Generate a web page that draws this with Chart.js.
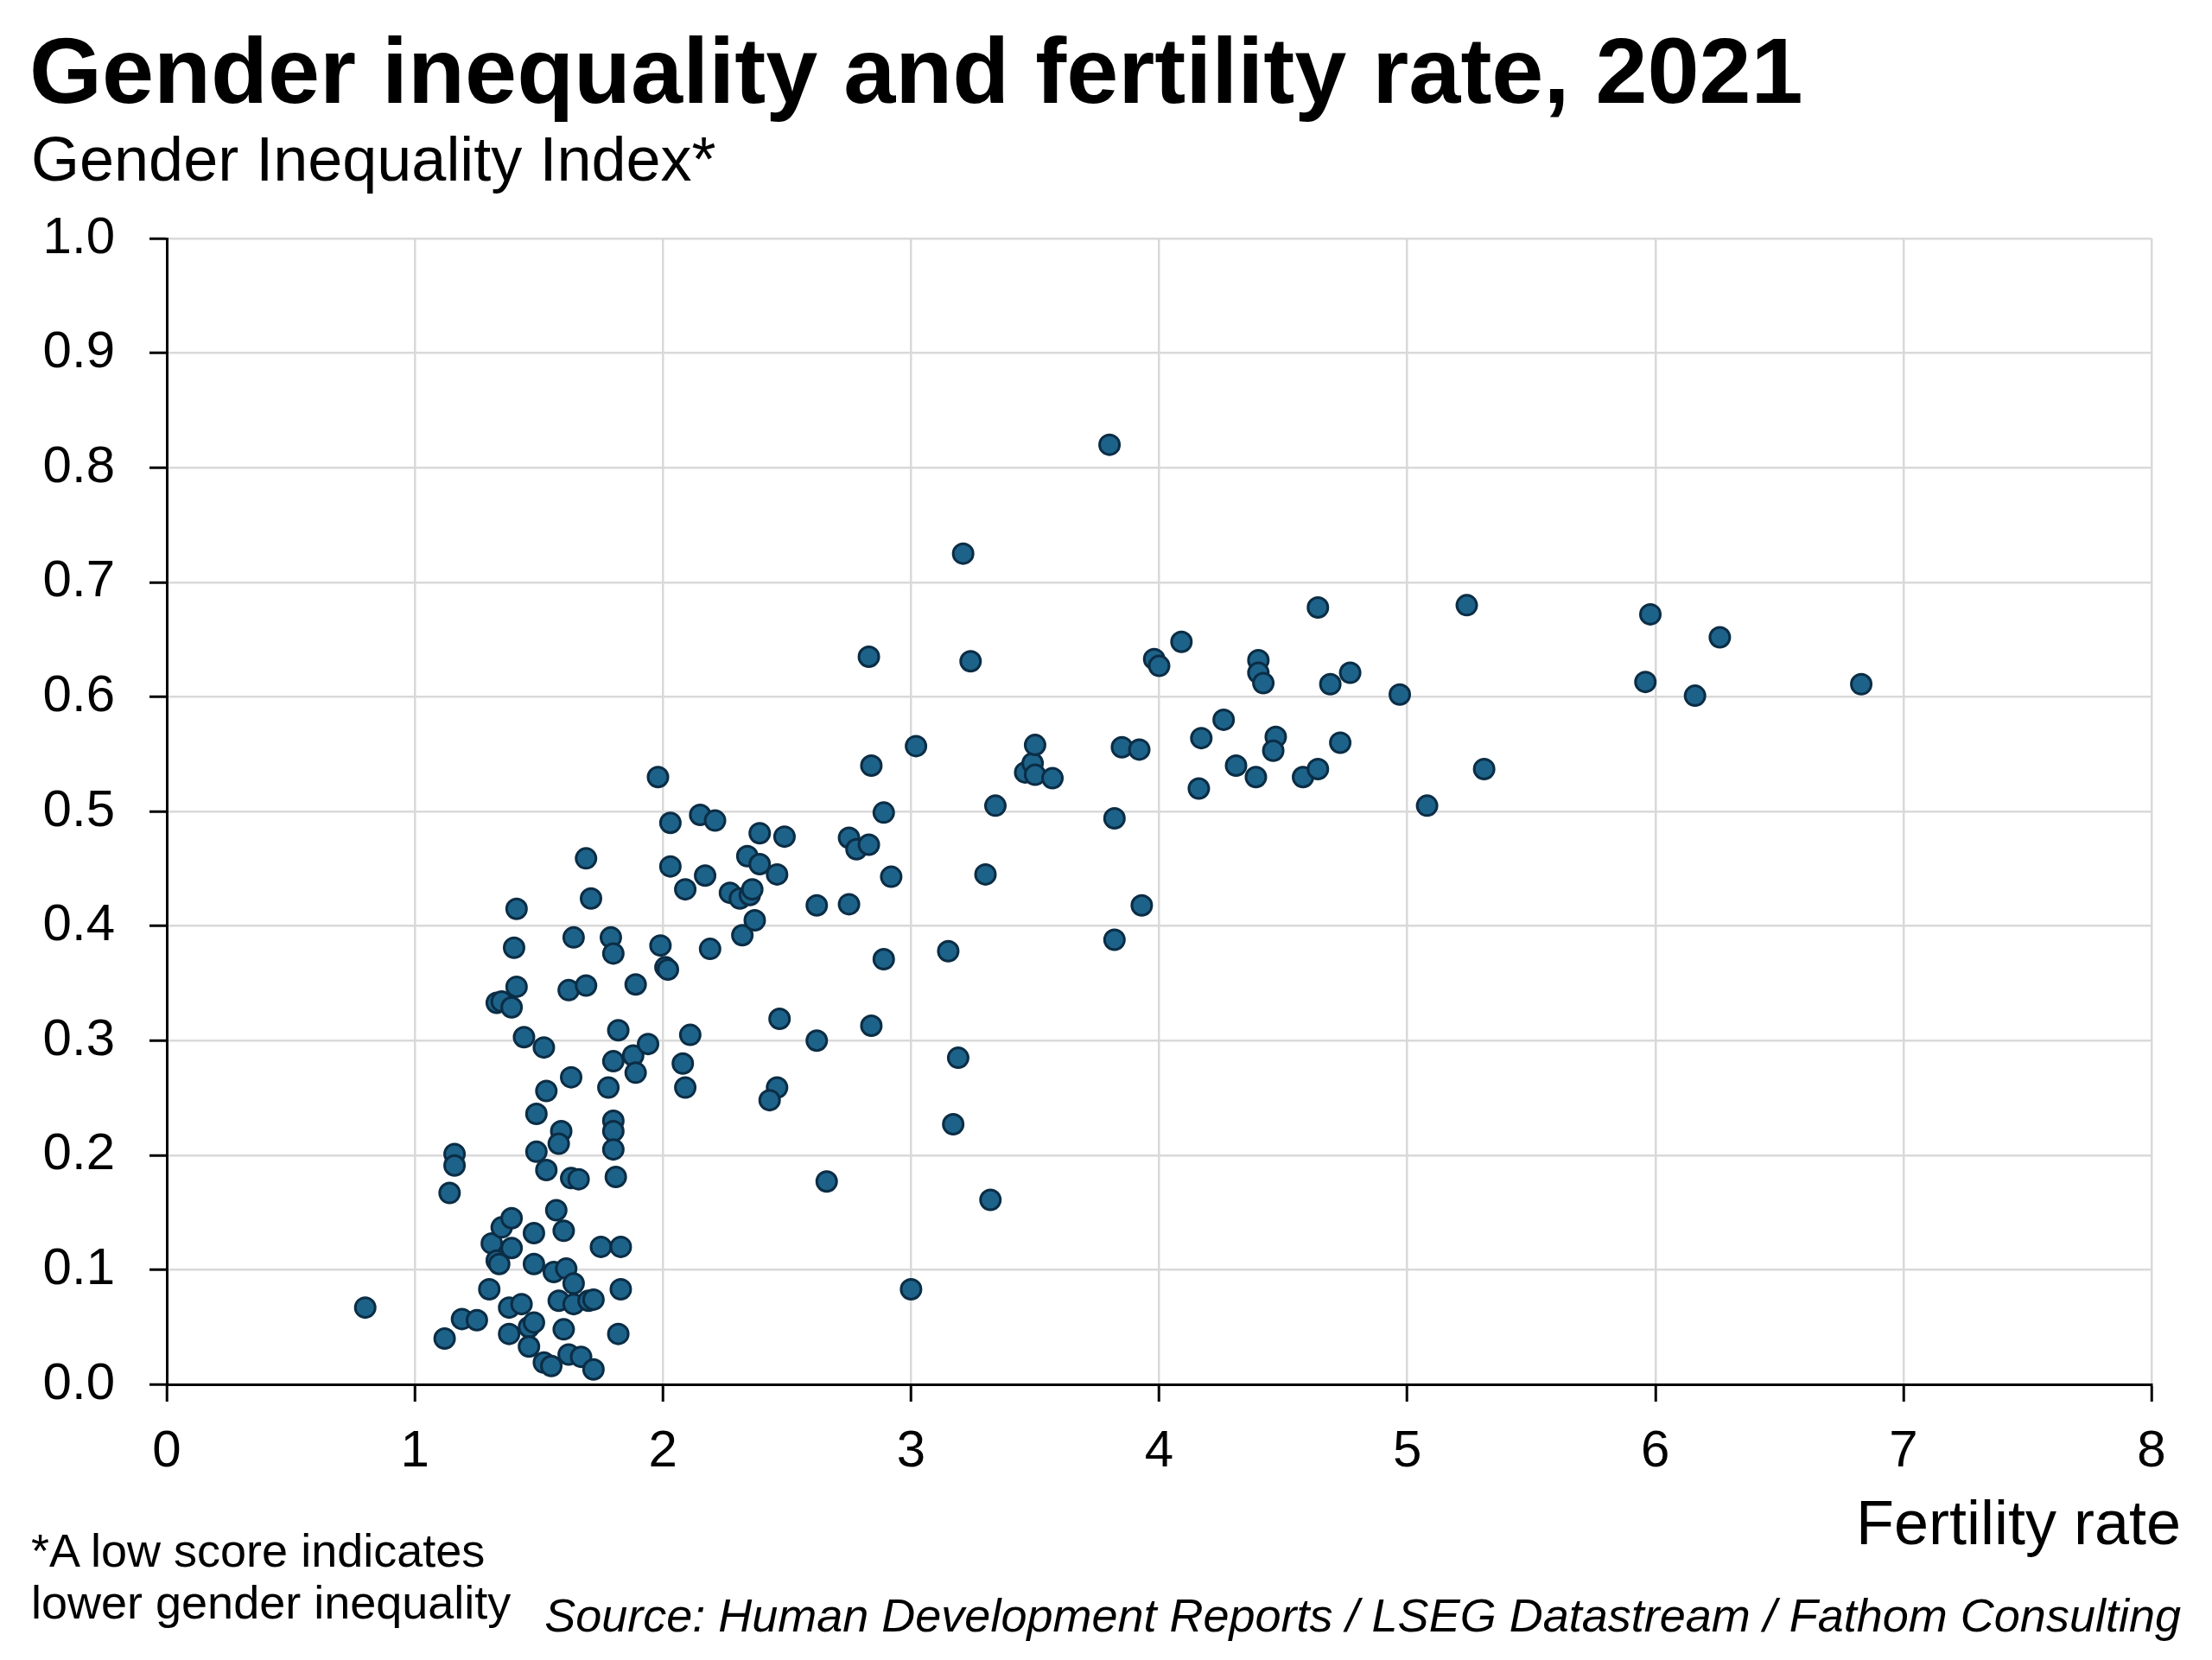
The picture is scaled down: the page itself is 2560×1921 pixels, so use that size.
<!DOCTYPE html>
<html>
<head>
<meta charset="utf-8">
<title>Gender inequality and fertility rate, 2021</title>
<script src="https://cdn.jsdelivr.net/npm/chart.js@4.4.0/dist/chart.umd.min.js"></script>
<style>
    html, body { margin: 0; padding: 0; background: #fff; }
    body { width: 2560px; height: 1921px; position: relative; overflow: hidden; font-family: 'Liberation Sans', Arial, sans-serif; color: #000; }
    #chartCanvas { position: absolute; left: 0; top: 0; }
    .txt { position: absolute; white-space: nowrap; line-height: 1; }
    #title { left: 34px; top: 28px; font-size: 108px; font-weight: bold; }
    #subtitle { left: 36px; top: 148px; font-size: 72px; }
    #xTitle { right: 36px; top: 1726px; font-size: 72px; }
    #footnote { left: 36px; top: 1764px; font-size: 54px; line-height: 60px; }
    #source { right: 36px; top: 1842px; font-size: 54px; font-style: italic; }
</style>
</head>
<body>
<canvas id="chartCanvas" width="2560" height="1921"></canvas>
<div class="txt" id="title">Gender inequality and fertility rate, 2021</div>
<div class="txt" id="subtitle">Gender Inequality Index*</div>
<div class="txt" id="xTitle">Fertility rate</div>
<div class="txt" id="footnote">*A low score indicates<br>lower gender inequality</div>
<div class="txt" id="source">Source: Human Development Reports / LSEG Datastream / Fathom Consulting</div>
<script>
document.addEventListener('DOMContentLoaded', init);

// Fertility rate (x) and Gender Inequality Index (y), one entry per country
const fertilityRate = [
    0.80, 1.12, 1.19, 1.25, 1.14, 1.16, 1.16, 1.30, 1.31, 1.33,
    1.34, 1.35, 1.39, 1.39, 1.38, 1.38, 1.43, 1.46, 1.48, 1.46,
    1.52, 1.55, 1.56, 1.48, 1.48, 1.49, 1.49, 1.53, 1.57, 1.60,
    1.59, 1.58, 1.58, 1.60, 1.61, 1.64, 1.62, 1.67, 1.72, 1.64,
    1.70, 1.72, 1.75, 1.83, 1.83, 1.82, 1.63, 1.66, 1.63, 1.53,
    1.52, 1.44, 1.33, 1.35, 1.39, 1.41, 1.40, 1.41, 1.62, 1.69,
    1.64, 1.69, 1.71, 1.78, 1.80, 1.80, 1.80, 1.80, 1.81, 1.79,
    1.80, 1.82, 1.89, 1.88, 1.89, 1.94, 1.98, 1.99, 2.01, 2.02,
    2.03, 2.03, 2.09, 2.08, 2.09, 2.11, 2.15, 2.17, 2.19, 2.21,
    2.27, 2.32, 2.31, 2.34, 2.35, 2.36, 2.37, 2.39, 2.39, 2.46,
    2.49, 2.47, 2.46, 2.43, 2.62, 2.62, 2.66, 2.75, 2.75, 2.78,
    2.83, 2.84, 2.84, 2.83, 2.89, 2.89, 2.92, 3.00, 3.02, 3.15,
    3.17, 3.19, 3.21, 3.24, 3.30, 3.32, 3.34, 3.46, 3.49, 3.50,
    3.50, 3.57, 3.80, 3.82, 3.82, 3.85, 3.92, 3.93, 3.98, 4.00,
    4.09, 4.17, 4.16, 4.26, 4.31, 4.39, 4.40, 4.40, 4.42, 4.47,
    4.46, 4.58, 4.64, 4.64, 4.69, 4.73, 4.77, 4.97, 5.08, 5.24,
    5.31, 5.96, 5.98, 6.16, 6.26, 6.83
];

const genderInequality = [
    0.067, 0.040, 0.057, 0.056, 0.167, 0.201, 0.191, 0.083, 0.123, 0.108,
    0.105, 0.137, 0.145, 0.119, 0.067, 0.044, 0.070, 0.050, 0.054, 0.033,
    0.019, 0.016, 0.098, 0.132, 0.105, 0.203, 0.236, 0.187, 0.152, 0.134,
    0.221, 0.210, 0.073, 0.048, 0.101, 0.088, 0.026, 0.024, 0.013, 0.070,
    0.073, 0.074, 0.120, 0.120, 0.083, 0.044, 0.180, 0.179, 0.268, 0.256,
    0.294, 0.303, 0.333, 0.334, 0.329, 0.347, 0.381, 0.415, 0.344, 0.348,
    0.390, 0.459, 0.424, 0.259, 0.282, 0.230, 0.221, 0.205, 0.181, 0.390,
    0.376, 0.309, 0.349, 0.287, 0.272, 0.297, 0.530, 0.383, 0.364, 0.362,
    0.452, 0.490, 0.432, 0.280, 0.259, 0.305, 0.497, 0.444, 0.380, 0.492,
    0.429, 0.392, 0.424, 0.461, 0.427, 0.432, 0.405, 0.481, 0.454, 0.445,
    0.478, 0.319, 0.259, 0.248, 0.418, 0.300, 0.177, 0.419, 0.477, 0.467,
    0.471, 0.313, 0.540, 0.635, 0.499, 0.371, 0.443, 0.083, 0.557, 0.378,
    0.227, 0.285, 0.725, 0.631, 0.445, 0.161, 0.505, 0.534, 0.542, 0.558,
    0.532, 0.529, 0.820, 0.494, 0.388, 0.556, 0.554, 0.418, 0.633, 0.627,
    0.648, 0.564, 0.520, 0.580, 0.540, 0.530, 0.632, 0.621, 0.612, 0.565,
    0.553, 0.530, 0.537, 0.678, 0.611, 0.560, 0.621, 0.602, 0.505, 0.680,
    0.537, 0.613, 0.672, 0.601, 0.652, 0.611
];

// Axis ranges and tick steps
const xAxisRange = [0, 8];
const xTickStep = 1;
const yAxisRange = [0, 1];
const yTickStep = 0.1;

const FONT_FAMILY = "'Liberation Sans', Arial, sans-serif";
const GRID_COLOR = '#d9d9d9';
const POINT_FILL = '#1d6289';
const POINT_EDGE = '#0b2d45';

function init() {
    const ctx = document.getElementById('chartCanvas').getContext('2d');
    Chart.defaults.font.family = FONT_FAMILY;

    const points = fertilityRate.map((x, i) => ({ x: x, y: genderInequality[i] }));

    new Chart(ctx, {
        type: 'scatter',
        data: {
            datasets: [{
                data: points,
                backgroundColor: POINT_FILL,
                borderColor: POINT_EDGE,
                borderWidth: 3,
                pointRadius: 11.5,
                pointHoverRadius: 11.5
            }]
        },
        options: {
            responsive: false,
            animation: false,
            layout: { padding: { top: 276, right: 70, left: 0, bottom: 0 } },
            plugins: {
                legend: { display: false },
                tooltip: { enabled: false }
            },
            scales: {
                x: {
                    type: 'linear',
                    min: xAxisRange[0],
                    max: xAxisRange[1],
                    ticks: {
                        stepSize: xTickStep,
                        color: '#000',
                        font: { size: 60 },
                        padding: 22,
                        maxRotation: 0
                    },
                    grid: { color: GRID_COLOR, lineWidth: 2.5, tickColor: '#000', tickLength: 20, tickWidth: 3 },
                    border: { color: '#000', width: 3 },
                    afterFit: function(scale) { scale.height = 319; }
                },
                y: {
                    type: 'linear',
                    min: yAxisRange[0],
                    max: yAxisRange[1],
                    ticks: {
                        stepSize: yTickStep,
                        color: '#000',
                        font: { size: 60 },
                        padding: 40,
                        callback: function(value) { return Number(value).toFixed(1); }
                    },
                    grid: { color: GRID_COLOR, lineWidth: 2.5, tickColor: '#000', tickLength: 20, tickWidth: 3 },
                    border: { color: '#000', width: 3 },
                    afterFit: function(scale) { scale.width = 193; }
                }
            }
        }
    });
}
</script>
</body>
</html>
